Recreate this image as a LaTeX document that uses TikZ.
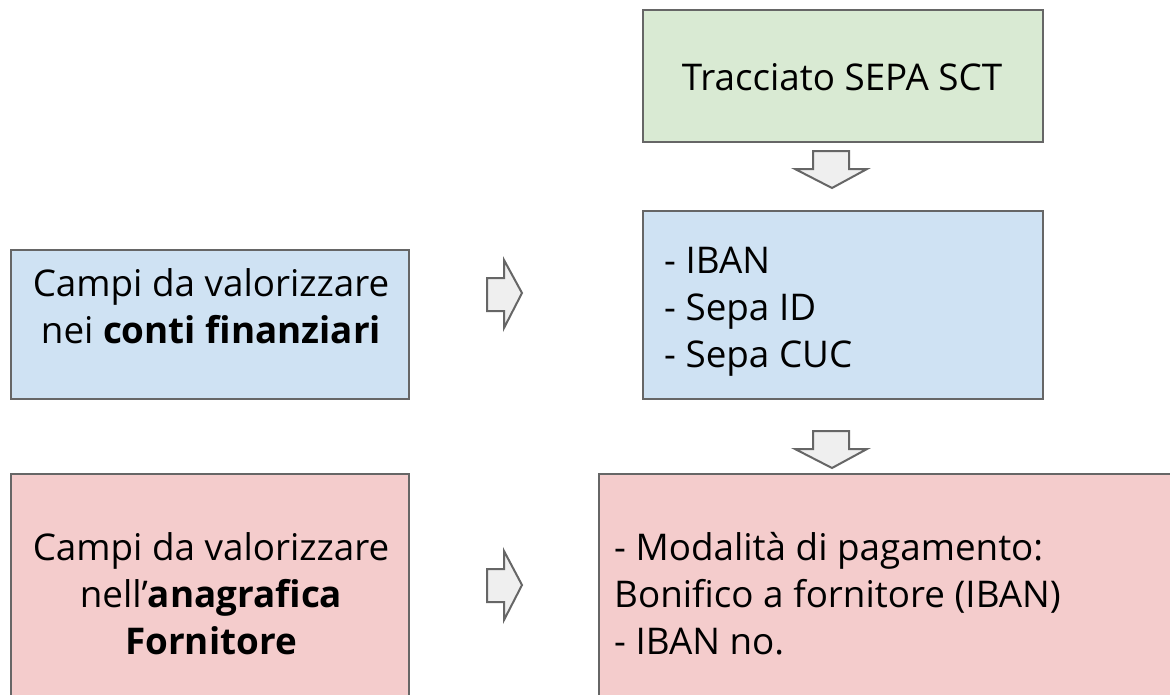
\documentclass[tikz,border=0pt]{standalone}
\usepackage{fontspec}
\setmainfont{Open Sans}
\definecolor{edgegray}{HTML}{666666}
\definecolor{greenfill}{HTML}{D9EAD3}
\definecolor{bluefill}{HTML}{CFE2F3}
\definecolor{pinkfill}{HTML}{F4CCCC}
\definecolor{arrowfill}{HTML}{EFEFEF}
\tikzset{
  boxframe/.style={draw=edgegray,line width=2pt},
  bigarrow/.style={draw=edgegray,fill=arrowfill,line width=2pt,line join=miter},
  txt/.style={font=\fontsize{36.8}{47}\selectfont,inner sep=0pt}
}
\begin{document}
\begin{tikzpicture}[x=1pt,y=-1pt]
\useasboundingbox (0,0) rectangle (1170,694);
\begin{scope}
\clip (0,0) rectangle (1170,694);
% boxes
\path[boxframe,fill=greenfill] (643,10) rectangle (1043,142);
\path[boxframe,fill=bluefill] (643,211) rectangle (1043,399);
\path[boxframe,fill=bluefill] (11,250) rectangle (409,399);
\path[boxframe,fill=pinkfill] (11,474) rectangle (409,710);
\path[boxframe,fill=pinkfill] (599,474) rectangle (1190,710);
\end{scope}
% arrows
\path[bigarrow] (813,151) -- (849,151) -- (849,169) -- (867,169) -- (832,188) -- (795,169) -- (813,169) -- cycle;
\path[bigarrow] (813,431) -- (849,431) -- (849,449) -- (867,449) -- (832,468) -- (795,449) -- (813,449) -- cycle;
\path[bigarrow] (487,278) -- (504,278) -- (504,260) -- (522,293) -- (504,328) -- (504,311) -- (487,311) -- cycle;
\path[bigarrow] (487,569) -- (504,569) -- (504,551) -- (522,585) -- (504,620) -- (504,602) -- (487,602) -- cycle;
% texts
\node[txt] (sepa) at (842,77) {Tracciato SEPA SCT};
\node[txt,align=left,anchor=west] (campi) at (664,312) {- IBAN\\- Sepa ID\\- Sepa CUC};
\node[txt,align=center] (conti) at (211,306) {Campi da valorizzare\\nei \textbf{conti finanziari}};
\node[txt,align=center] (anag) at (211,594) {Campi da valorizzare\\nell’\textbf{anagrafica}\\\textbf{Fornitore}};
\node[txt,align=left,anchor=west] (modal) at (614,594) {- Modalità di pagamento:\\Bonifico a fornitore (IBAN)\\- IBAN no.};
\end{tikzpicture}
\end{document}
